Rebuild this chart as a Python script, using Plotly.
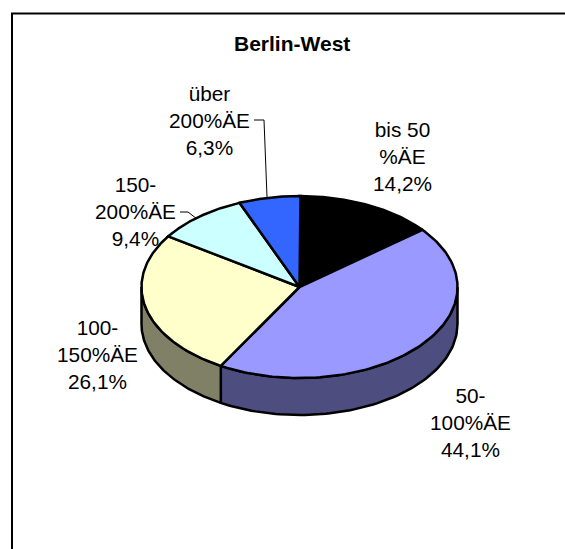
import numpy as np
import plotly.graph_objects as go

categories = ["bis 50<br>%ÄE", "50-<br>100%ÄE", "100-<br>150%ÄE", "150-<br>200%ÄE", "über<br>200%ÄE"]
values = [14.2, 44.1, 26.1, 9.4, 6.3]
value_labels = ["14,2%", "44,1%", "26,1%", "9,4%", "6,3%"]
top_colors = ["#000000", "#9999FF", "#FFFFCC", "#CCFFFF", "#3366FF"]
side_colors = ["#000000", "#4D4D80", "#808066", "#668080", "#1A3380"]
label_xy = [(402, 156), (470, 422), (97, 354), (135.5, 211), (209, 120)]

CX, CY, RX, RY, DEPTH = 299.5, 287, 158, 91, 37
FONT = "Liberation Sans, Arial, sans-serif"


def pt(a):
    t = np.radians(a)
    return CX + RX * np.sin(t), CY - RY * np.cos(t)


fig = go.Figure()
starts = np.cumsum([0] + values[:-1]) * 3.6
ends = np.cumsum(values) * 3.6

for s, e, c in zip(starts, ends, side_colors):
    lo, hi = max(s, 90), min(e, 270)
    if lo >= hi:
        continue
    a = np.linspace(lo, hi, 80)
    x, y = pt(a)
    xs = np.r_[x, x[::-1], x[0]]
    ys = np.r_[y + DEPTH, y[::-1], y[0] + DEPTH]
    fig.add_trace(go.Scatter(x=xs, y=ys, mode="lines", fill="toself", fillcolor=c,
                             line=dict(color="#000000", width=2.5), hoverinfo="skip"))

for s, e, c in zip(starts, ends, top_colors):
    a = np.linspace(s, e, 120)
    x, y = pt(a)
    xs = np.r_[CX, x, CX]
    ys = np.r_[CY, y, CY]
    fig.add_trace(go.Scatter(x=xs, y=ys, mode="lines", fill="toself", fillcolor=c,
                             line=dict(color="#000000", width=2.5), hoverinfo="skip"))

for cat, val, (lx, ly) in zip(categories, value_labels, label_xy):
    fig.add_annotation(x=lx, y=ly, text=f"{cat}<br>{val}", showarrow=False,
                       font=dict(family=FONT, size=20.8, color="#000000"), align="center")

fig.add_annotation(x=292, y=43, text="<b>Berlin-West</b>", showarrow=False,
                   font=dict(family=FONT, size=21, color="#000000"))

for path in ["M 254 120 L 264 120 L 267 197", "M 180 212 L 188 212 L 197 219"]:
    fig.add_shape(type="path", path=path, line=dict(color="#000000", width=1))

fig.add_shape(type="path", path="M 12 560 L 12 13.5 L 570 13.5", line=dict(color="#000000", width=2))

fig.update_layout(
    width=565, height=549, margin=dict(l=0, r=0, t=0, b=0),
    paper_bgcolor="#FFFFFF", plot_bgcolor="#FFFFFF", showlegend=False,
    xaxis=dict(range=[0, 565], visible=False, fixedrange=True),
    yaxis=dict(range=[549, 0], visible=False, fixedrange=True),
)
fig.write_html("out.html", config={"displayModeBar": False},
               post_script="document.body.style.margin='0';document.documentElement.style.overflow='hidden';")
